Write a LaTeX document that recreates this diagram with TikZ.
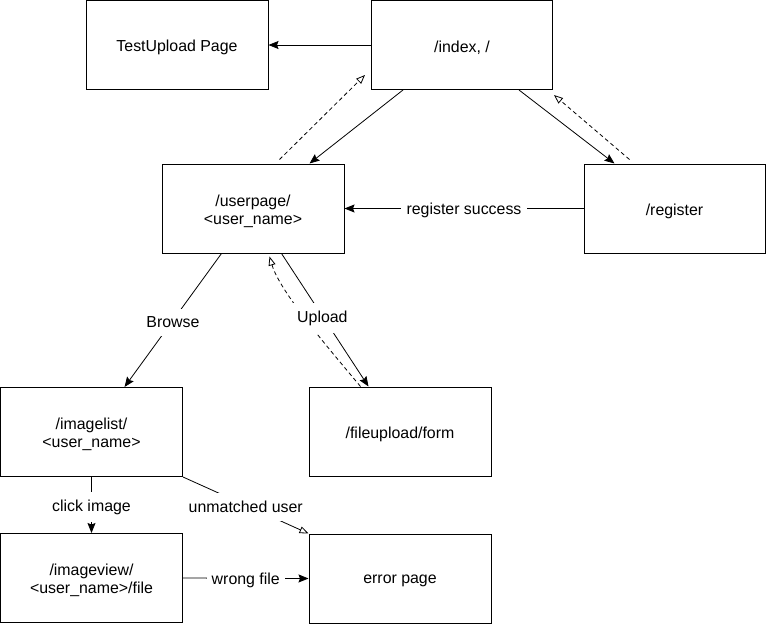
\documentclass[tikz,border=0pt]{standalone}
\usepackage{fontspec}
\setmainfont{Liberation Sans}
\usetikzlibrary{arrows.meta,calc}
% lower a line of text a little without changing its box
\newcommand\dn[1]{\raisebox{-2.5pt}[\height][\depth]{#1}}
\begin{document}
\begin{tikzpicture}[x=1pt,y=-1pt,
  page/.style={draw,line width=1pt,minimum width=182pt,minimum height=89pt,
    inner sep=0pt,align=center,font=\fontsize{15.9}{18.3}\selectfont},
  link/.style={line width=0.8pt,-{Stealth[length=10pt,width=8pt,inset=1.5pt]}},
  back/.style={line width=0.8pt,dash pattern=on 4pt off 3pt,
    -{Triangle[open,length=9pt,width=7pt]}},
  fail/.style={line width=0.8pt,-{Triangle[open,length=9pt,width=7pt]}},
  tag/.style={fill=white,inner xsep=6pt,inner ysep=8pt,yshift=-2pt,
    font=\fontsize{15.9}{18.3}\selectfont}]
  \useasboundingbox (0,0) rectangle (766,624);

  % pages
  \node[page] (test)   at (177,45)    {\dn{TestUpload Page}};
  \node[page,minimum width=181pt] (index) at (462,45) {\dn{/index, /}};
  \node[page] (user)   at (253,208.5) {\dn{/userpage/}\\\dn{<user\_name>}};
  \node[page,minimum width=181pt] (reg) at (674.5,208.5) {\dn{/register}};
  \node[page] (list)   at (91.5,432)  {\dn{/imagelist/}\\\dn{<user\_name>}};
  \node[page] (upload) at (400,431.5) {\dn{/fileupload/form}};
  \node[page] (view)   at (91.5,578)  {\dn{/imageview/}\\\dn{<user\_name>/file}};
  \node[page] (err)    at (400,578.5) {\dn{error page}};

  % navigation from the index page
  \draw[link] (index.west) -- (test.east);
  \draw[link] ($(index.south west)+(32,0)$) -- ($(user.north west)+(148,0)$);
  \draw[back] ($(user.north west)+(118,-4)$) -- ($(index.south west)+(-6,-15)$);
  \draw[link] ($(index.south west)+(148,0)$) -- ($(reg.north west)+(31,0)$);
  \draw[back] ($(reg.north west)+(46,-4)$) -- ($(index.south east)+(1,5)$);

  % registration
  \draw[link] (reg.west) -- node[tag] {register success} (user.east);

  % user page
  \draw[link] ($(user.south west)+(60,0)$) -- node[tag,pos=0.5] {Browse} ($(list.north west)+(124.5,0)$);
  \draw[back] ($(upload.north west)+(52,0)$) .. controls (330,350) and (280,292) .. ($(user.south west)+(108,3)$);
  \draw[link] ($(user.south west)+(120,0)$) -- node[tag,pos=0.47] {Upload} ($(upload.north west)+(60,0)$);

  % image list and view
  \draw[link] (list.south) -- node[tag] {click image} (view.north);
  \draw[fail] (list.south east) -- node[tag] {unmatched user} (err.north west);
  \draw[link] (view.east) -- node[tag,inner xsep=5pt] {wrong file} (err.west);
\end{tikzpicture}
\end{document}
